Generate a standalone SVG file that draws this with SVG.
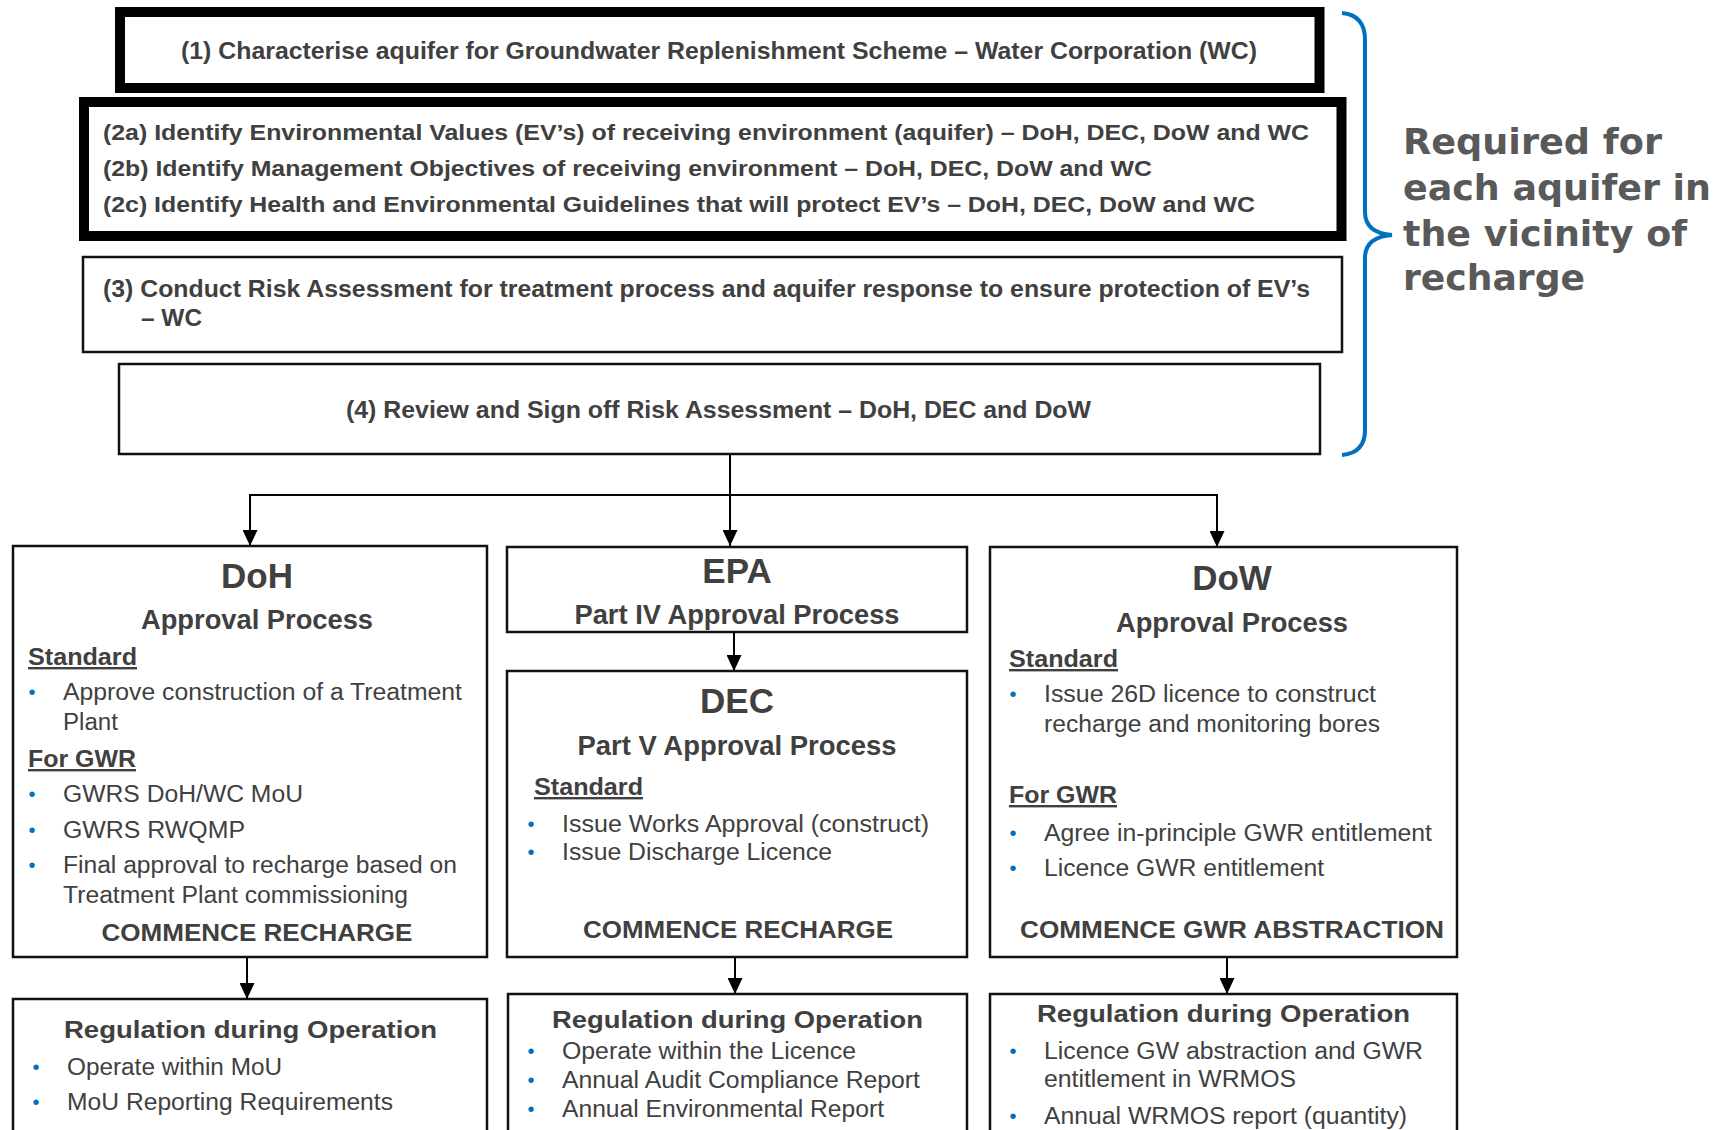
<svg xmlns="http://www.w3.org/2000/svg" width="1722" height="1130" viewBox="0 0 1722 1130">
<defs>
<style>
.box{fill:#fff;stroke:#111;stroke-width:2.5}
.thick{fill:#fff;stroke:#000;stroke-width:10}
.t{font-family:"Liberation Sans",Arial,sans-serif;fill:#404040}
.b{font-weight:bold}
.h1{font-size:35px;font-weight:bold}
.h2{font-size:27px;font-weight:bold}
.sec{font-size:24px;font-weight:bold;text-decoration:underline}
.li{font-size:23px}
.cm{font-size:24px;font-weight:bold}
.bul{font-family:"Liberation Sans",Arial,sans-serif;font-size:20px;fill:#0070C0}
.conn{stroke:#000;stroke-width:2;fill:none}
.side{font-family:"DejaVu Sans",Verdana,sans-serif;font-weight:bold;font-size:36px;fill:#595959}
</style>
<marker id="arr" markerUnits="userSpaceOnUse" markerWidth="16" markerHeight="15" viewBox="0 0 16 15" refX="16" refY="7.5" orient="auto">
<path d="M0,0 L16,7.5 L0,15 Z" fill="#000"/>
</marker>
</defs>
<rect width="1722" height="1130" fill="#fff"/>

<g id="step1">
<rect class="thick" x="120" y="12" width="1199.5" height="76"/>
<text class="t b" x="719" y="59" font-size="24" text-anchor="middle" textLength="1076" lengthAdjust="spacingAndGlyphs">(1) Characterise aquifer for Groundwater Replenishment Scheme – Water Corporation (WC)</text>
</g>

<g id="step2">
<rect class="thick" x="84" y="102" width="1257.5" height="134"/>
<text class="t b" x="103" y="140" font-size="22" textLength="1206" lengthAdjust="spacingAndGlyphs">(2a) Identify Environmental Values (EV’s) of receiving environment (aquifer) – DoH, DEC, DoW and WC</text>
<text class="t b" x="103" y="176" font-size="22" textLength="1049" lengthAdjust="spacingAndGlyphs">(2b) Identify Management Objectives of receiving environment – DoH, DEC, DoW and WC</text>
<text class="t b" x="103" y="212" font-size="22" textLength="1152" lengthAdjust="spacingAndGlyphs">(2c) Identify Health and Environmental Guidelines that will protect EV’s – DoH, DEC, DoW and WC</text>
</g>

<g id="step3">
<rect class="box" x="83" y="257" width="1259" height="95"/>
<text class="t b" x="103" y="297" font-size="23" textLength="1207" lengthAdjust="spacingAndGlyphs">(3) Conduct Risk Assessment for treatment process and aquifer response to ensure protection of EV’s</text>
<text class="t b" x="141" y="326" font-size="23" textLength="61" lengthAdjust="spacingAndGlyphs">– WC</text>
</g>

<g id="step4">
<rect class="box" x="119" y="364" width="1201" height="90"/>
<text class="t b" x="718.5" y="418" font-size="23" text-anchor="middle" textLength="745" lengthAdjust="spacingAndGlyphs">(4) Review and Sign off Risk Assessment – DoH, DEC and DoW</text>
</g>

<g id="brace">
<path d="M1342,13 Q1365,15 1365,40 V212 Q1365,233 1392,235 Q1365,237 1365,258 V430 Q1365,453 1342,455" fill="none" stroke="#0070C0" stroke-width="4"/>
<text class="side" x="1403" y="154" textLength="259" lengthAdjust="spacingAndGlyphs">Required for</text>
<text class="side" x="1403" y="200" textLength="308" lengthAdjust="spacingAndGlyphs">each aquifer in</text>
<text class="side" x="1403" y="246" textLength="284" lengthAdjust="spacingAndGlyphs">the vicinity of</text>
<text class="side" x="1403" y="290" textLength="182" lengthAdjust="spacingAndGlyphs">recharge</text>
</g>

<g id="doh">
<rect class="box" x="13" y="546" width="474" height="411"/>
<text class="t h1" x="257" y="588" text-anchor="middle">DoH</text>
<text class="t h2" x="257" y="629" text-anchor="middle" textLength="232" lengthAdjust="spacingAndGlyphs">Approval Process</text>
<text class="t sec" x="28" y="665" textLength="109" lengthAdjust="spacingAndGlyphs">Standard</text>
<text class="bul" x="32" y="699" text-anchor="middle">•</text>
<text class="t li" x="63" y="700" textLength="399" lengthAdjust="spacingAndGlyphs">Approve construction of a Treatment</text>
<text class="t li" x="63" y="730" textLength="55" lengthAdjust="spacingAndGlyphs">Plant</text>
<text class="t sec" x="28" y="767" textLength="108" lengthAdjust="spacingAndGlyphs">For GWR</text>
<text class="bul" x="32" y="801" text-anchor="middle">•</text>
<text class="t li" x="63" y="802" textLength="240" lengthAdjust="spacingAndGlyphs">GWRS DoH/WC MoU</text>
<text class="bul" x="32" y="837" text-anchor="middle">•</text>
<text class="t li" x="63" y="838" textLength="182" lengthAdjust="spacingAndGlyphs">GWRS RWQMP</text>
<text class="bul" x="32" y="872" text-anchor="middle">•</text>
<text class="t li" x="63" y="873" textLength="394" lengthAdjust="spacingAndGlyphs">Final approval to recharge based on</text>
<text class="t li" x="63" y="903" textLength="345" lengthAdjust="spacingAndGlyphs">Treatment Plant commissioning</text>
<text class="t cm" x="257" y="941" text-anchor="middle" textLength="311" lengthAdjust="spacingAndGlyphs">COMMENCE RECHARGE</text>
</g>

<g id="epa">
<rect class="box" x="507" y="547" width="460" height="85"/>
<text class="t h1" x="737" y="583" text-anchor="middle">EPA</text>
<text class="t h2" x="737" y="624" text-anchor="middle" textLength="325" lengthAdjust="spacingAndGlyphs">Part IV  Approval Process</text>
</g>

<g id="dec">
<rect class="box" x="507" y="671" width="460" height="286"/>
<text class="t h1" x="737" y="713" text-anchor="middle">DEC</text>
<text class="t h2" x="737" y="755" text-anchor="middle" textLength="319" lengthAdjust="spacingAndGlyphs">Part V Approval Process</text>
<text class="t sec" x="534" y="795" textLength="109" lengthAdjust="spacingAndGlyphs">Standard</text>
<text class="bul" x="531" y="831" text-anchor="middle">•</text>
<text class="t li" x="562" y="832" textLength="367" lengthAdjust="spacingAndGlyphs">Issue Works Approval  (construct)</text>
<text class="bul" x="531" y="859" text-anchor="middle">•</text>
<text class="t li" x="562" y="860" textLength="270" lengthAdjust="spacingAndGlyphs">Issue Discharge Licence</text>
<text class="t cm" x="738" y="938" text-anchor="middle" textLength="310" lengthAdjust="spacingAndGlyphs">COMMENCE RECHARGE</text>
</g>

<g id="dow">
<rect class="box" x="990" y="547" width="467" height="410"/>
<text class="t h1" x="1232" y="590" text-anchor="middle">DoW</text>
<text class="t h2" x="1232" y="632" text-anchor="middle" textLength="232" lengthAdjust="spacingAndGlyphs">Approval Process</text>
<text class="t sec" x="1009" y="667" textLength="109" lengthAdjust="spacingAndGlyphs">Standard</text>
<text class="bul" x="1013" y="701" text-anchor="middle">•</text>
<text class="t li" x="1044" y="702" textLength="332" lengthAdjust="spacingAndGlyphs">Issue 26D licence to construct</text>
<text class="t li" x="1044" y="732" textLength="336" lengthAdjust="spacingAndGlyphs">recharge and  monitoring bores</text>
<text class="t sec" x="1009" y="803" textLength="108" lengthAdjust="spacingAndGlyphs">For GWR</text>
<text class="bul" x="1013" y="840" text-anchor="middle">•</text>
<text class="t li" x="1044" y="841" textLength="388" lengthAdjust="spacingAndGlyphs">Agree  in-principle GWR entitlement</text>
<text class="bul" x="1013" y="875" text-anchor="middle">•</text>
<text class="t li" x="1044" y="876" textLength="280" lengthAdjust="spacingAndGlyphs">Licence GWR entitlement</text>
<text class="t cm" x="1232" y="938" text-anchor="middle" textLength="424" lengthAdjust="spacingAndGlyphs">COMMENCE GWR ABSTRACTION</text>
</g>

<g id="doh-reg">
<rect class="box" x="13" y="999" width="474" height="150"/>
<text class="t cm" x="64" y="1038" textLength="373" lengthAdjust="spacingAndGlyphs">Regulation during Operation</text>
<text class="bul" x="36" y="1074" text-anchor="middle">•</text>
<text class="t li" x="67" y="1075" textLength="215" lengthAdjust="spacingAndGlyphs">Operate within MoU</text>
<text class="bul" x="36" y="1109" text-anchor="middle">•</text>
<text class="t li" x="67" y="1110" textLength="326" lengthAdjust="spacingAndGlyphs">MoU Reporting Requirements</text>
</g>

<g id="dec-reg">
<rect class="box" x="508" y="994" width="459" height="155"/>
<text class="t cm" x="552" y="1028" textLength="371" lengthAdjust="spacingAndGlyphs">Regulation during Operation</text>
<text class="bul" x="531" y="1058" text-anchor="middle">•</text>
<text class="t li" x="562" y="1059" textLength="294" lengthAdjust="spacingAndGlyphs">Operate within the Licence</text>
<text class="bul" x="531" y="1087" text-anchor="middle">•</text>
<text class="t li" x="562" y="1088" textLength="358" lengthAdjust="spacingAndGlyphs">Annual Audit Compliance Report</text>
<text class="bul" x="531" y="1116" text-anchor="middle">•</text>
<text class="t li" x="562" y="1117" textLength="322" lengthAdjust="spacingAndGlyphs">Annual Environmental Report</text>
</g>

<g id="dow-reg">
<rect class="box" x="990" y="994" width="467" height="155"/>
<text class="t cm" x="1037" y="1022" textLength="373" lengthAdjust="spacingAndGlyphs">Regulation during Operation</text>
<text class="bul" x="1013" y="1058" text-anchor="middle">•</text>
<text class="t li" x="1044" y="1059" textLength="379" lengthAdjust="spacingAndGlyphs">Licence GW abstraction and GWR</text>
<text class="t li" x="1044" y="1087" textLength="252" lengthAdjust="spacingAndGlyphs">entitlement in WRMOS</text>
<text class="bul" x="1013" y="1123" text-anchor="middle">•</text>
<text class="t li" x="1044" y="1124" textLength="363" lengthAdjust="spacingAndGlyphs">Annual  WRMOS report (quantity)</text>
</g>

<g id="connectors">
<path class="conn" d="M730,454 V546" marker-end="url(#arr)"/>
<path class="conn" d="M730,495 H250 V546" marker-end="url(#arr)"/>
<path class="conn" d="M730,495 H1217 V547" marker-end="url(#arr)"/>
<path class="conn" d="M734,632 V671" marker-end="url(#arr)"/>
<path class="conn" d="M247,957 V999" marker-end="url(#arr)"/>
<path class="conn" d="M735,957 V994" marker-end="url(#arr)"/>
<path class="conn" d="M1227,957 V994" marker-end="url(#arr)"/>
</g>
</svg>
